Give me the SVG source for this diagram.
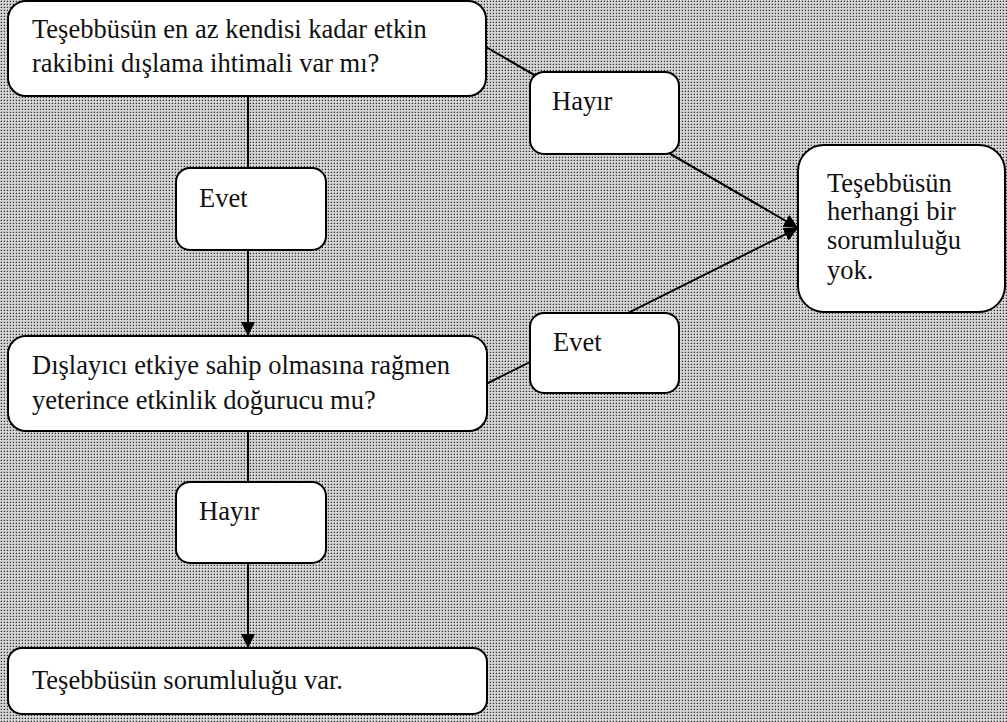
<svg xmlns="http://www.w3.org/2000/svg" width="1007" height="722" viewBox="0 0 1007 722">
  <defs>
    <!-- halftone dot fill for the page background -->
    <pattern id="dots" width="3" height="3" patternUnits="userSpaceOnUse">
      <rect width="3" height="3" fill="#d4d4d4"/>
      <rect x="1" y="1" width="1" height="1" fill="#2e2e2e"/>
      <rect x="0" y="1" width="1" height="1" fill="#a8a8a8"/>
      <rect x="1" y="0" width="1" height="1" fill="#a8a8a8"/>
    </pattern>
    <marker id="arrow" markerWidth="14" markerHeight="14" viewBox="0 0 14 14" refX="14" refY="7" orient="auto" markerUnits="userSpaceOnUse">
      <path d="M0,0 L14,7 L0,14 Z" fill="#000"/>
    </marker>
  </defs>
  <style>
    .box { fill: #fff; stroke: #000; stroke-width: 2; }
    .lbl { font-size: 26.5px; fill: #111; }
    .edge { stroke: #000; stroke-width: 2; fill: none; }
  </style>

  <rect width="1007" height="722" fill="url(#dots)"/>

  <g id="connectors">
    <line class="edge" x1="248" y1="96" x2="248" y2="336" marker-end="url(#arrow)"/>
    <line class="edge" x1="248" y1="431" x2="248" y2="648" marker-end="url(#arrow)"/>
    <line class="edge" x1="486" y1="47" x2="798" y2="228" marker-end="url(#arrow)"/>
    <line class="edge" x1="486" y1="384" x2="798" y2="228" marker-end="url(#arrow)"/>
  </g>

  <g font-family="'Times New Roman', 'Liberation Serif', 'DejaVu Serif', serif">
    <g id="node-q1">
      <rect class="box" x="8" y="1" width="478" height="95" rx="18"/>
      <text class="lbl" x="32" y="38">Teşebbüsün en az kendisi kadar etkin</text>
      <text class="lbl" x="32" y="72">rakibini dışlama ihtimali var mı?</text>
    </g>

    <g id="node-no1">
      <rect class="box" x="530" y="72" width="149" height="82" rx="14"/>
      <text class="lbl" x="552" y="110">Hayır</text>
    </g>

    <g id="node-yes1">
      <rect class="box" x="176" y="168" width="150" height="82" rx="14"/>
      <text class="lbl" x="199" y="207">Evet</text>
    </g>

    <g id="node-q2">
      <rect class="box" x="8" y="336" width="479" height="95" rx="18"/>
      <text class="lbl" x="32" y="374">Dışlayıcı etkiye sahip olmasına rağmen</text>
      <text class="lbl" x="32" y="409">yeterince etkinlik doğurucu mu?</text>
    </g>

    <g id="node-yes2">
      <rect class="box" x="530" y="313" width="149" height="80" rx="14"/>
      <text class="lbl" x="553" y="351">Evet</text>
    </g>

    <g id="node-no-liability">
      <rect class="box" x="798" y="145" width="207" height="167" rx="26"/>
      <text class="lbl" x="827" y="192">Teşebbüsün</text>
      <text class="lbl" x="827" y="220">herhangi bir</text>
      <text class="lbl" x="827" y="249">sorumluluğu</text>
      <text class="lbl" x="827" y="279">yok.</text>
    </g>

    <g id="node-no2">
      <rect class="box" x="176" y="482" width="150" height="81" rx="14"/>
      <text class="lbl" x="199" y="520">Hayır</text>
    </g>

    <g id="node-liability">
      <rect class="box" x="8" y="648" width="479" height="66" rx="14"/>
      <text class="lbl" x="32" y="689">Teşebbüsün sorumluluğu var.</text>
    </g>
  </g>
</svg>
